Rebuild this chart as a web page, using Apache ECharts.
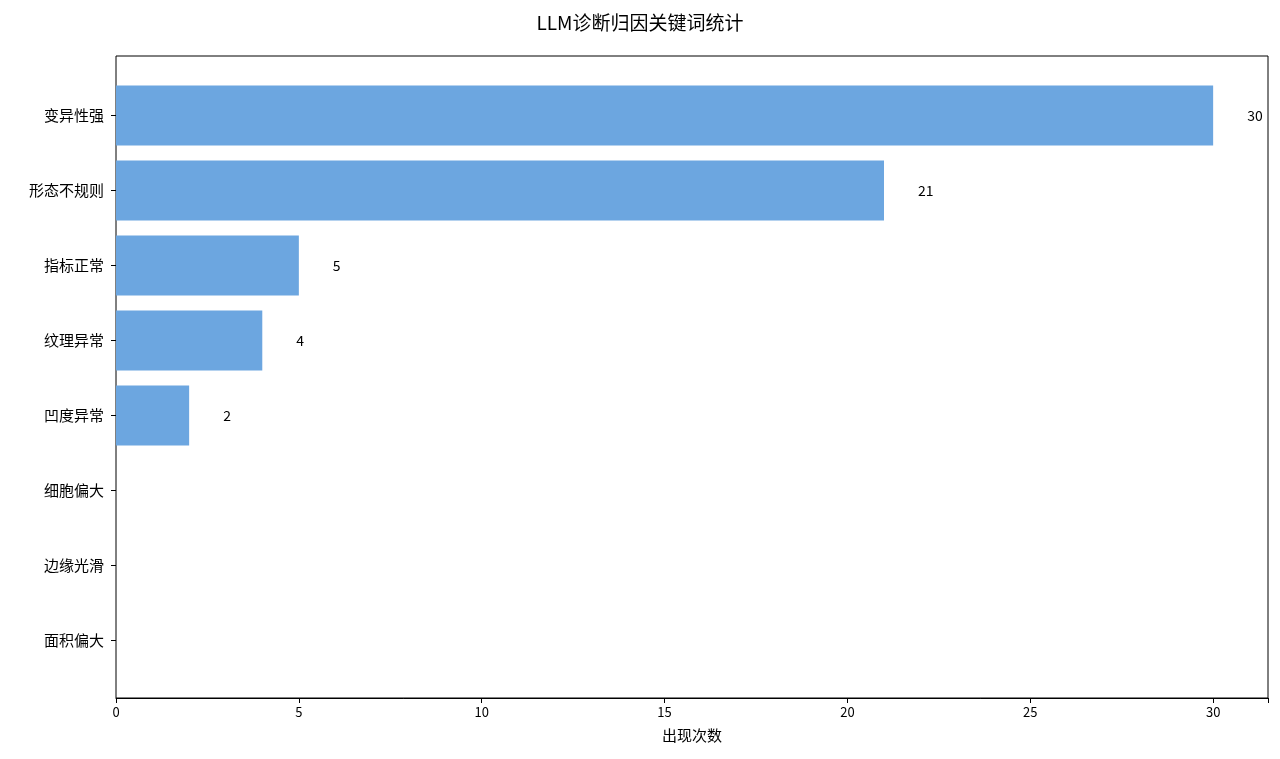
<!DOCTYPE html>
<html><head><meta charset="utf-8">
<script src="https://cdn.jsdelivr.net/npm/echarts@6/dist/echarts.min.js"></script>
<style>html,body{margin:0;padding:0;background:#fff}#main{width:1280px;height:759px}</style>
</head><body><div id="main"></div>
<script>
var categories = ['变异性强','形态不规则','指标正常','纹理异常','凹度异常','细胞偏大','边缘光滑','面积偏大'];
var counts = [30, 21, 5, 4, 2, 0, 0, 0];
var xTicks = [0, 5, 10, 15, 20, 25, 30];

var font = '"Noto Sans CJK SC", "DejaVu Sans", sans-serif';
var chart = echarts.init(document.getElementById('main'));
chart.setOption({
  animation: false,
  backgroundColor: '#fff',
  title: {text: 'LLM诊断归因关键词统计', left: 'center', top: 8,
    textStyle: {fontFamily: font, fontSize: 19, fontWeight: 'normal', color: '#000'}},
  grid: [
    {left: 116, right: 12, top: 56, bottom: 61, show: true, borderColor: '#000', borderWidth: 1, backgroundColor: 'transparent'},
    {left: 116, right: 12, top: 78, height: 600}
  ],
  xAxis: [
    {gridIndex: 0, type: 'value', min: 0, max: 31.5, interval: 5,
      name: '出现次数', nameLocation: 'middle', nameGap: 30,
      nameTextStyle: {fontFamily: font, fontSize: 15, color: '#000'},
      axisLine: {show: true, lineStyle: {color: '#000'}},
      axisTick: {show: true, length: 5, lineStyle: {color: '#000'}},
      axisLabel: {fontFamily: font, fontSize: 13, color: '#000',
        formatter: function (v) { return xTicks.indexOf(v) >= 0 ? v : ''; }},
      splitLine: {show: false}},
    {gridIndex: 1, type: 'value', min: 0, max: 31.5, show: false, splitLine: {show: false}}
  ],
  yAxis: [
    {gridIndex: 0, type: 'value', show: false},
    {gridIndex: 1, type: 'category', data: categories, inverse: true,
      axisLine: {show: false},
      axisTick: {show: true, alignWithLabel: true, length: 5, lineStyle: {color: '#000'}},
      axisLabel: {fontFamily: font, fontSize: 15, color: '#000', margin: 12}}
  ],
  series: [{
    type: 'bar', xAxisIndex: 1, yAxisIndex: 1, data: counts,
    barCategoryGap: '20%',
    itemStyle: {color: '#6ca6e0'},
    label: {show: true, position: 'right', distance: 34, fontFamily: font, fontSize: 14, color: '#000',
      formatter: function (p) { return p.value > 0 ? p.value : ''; }}
  }]
});
</script></body></html>
